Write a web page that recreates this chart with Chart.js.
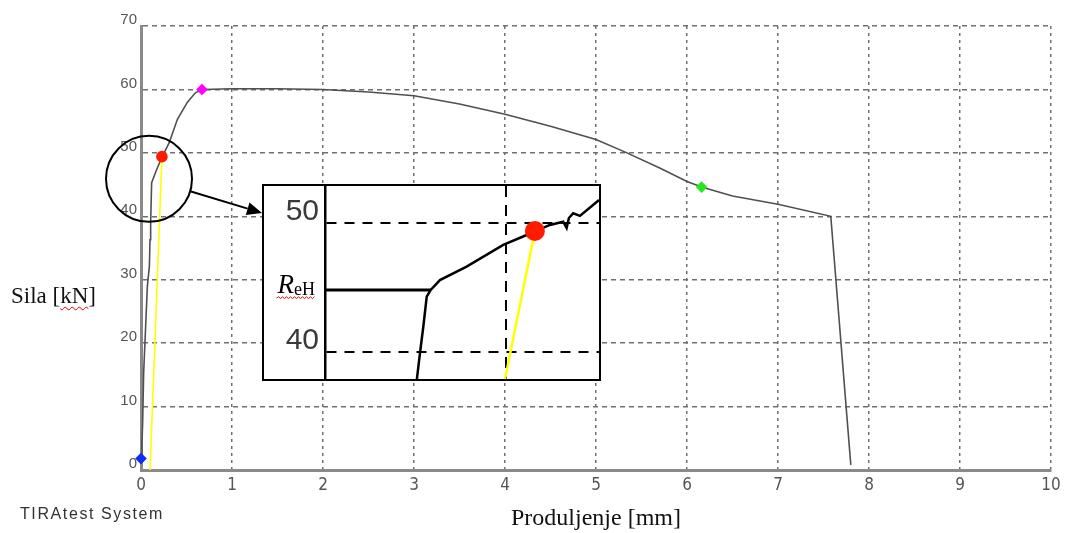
<!DOCTYPE html>
<html>
<head>
<meta charset="utf-8">
<script src="https://cdn.jsdelivr.net/npm/chart.js@4.4.1/dist/chart.umd.min.js"></script>
<style>
html,body{margin:0;padding:0;background:#fff;}
#wrap{position:relative;width:1065px;height:533px;overflow:hidden;background:#fff;}
#main{position:absolute;left:0;top:0;}
#inset{position:absolute;left:262px;top:184px;width:335px;height:193px;border:2px solid #000;background:#fff;}
#inset canvas{position:absolute;left:0;top:0;}
#ylab{position:absolute;left:11px;top:284px;font-family:"Liberation Serif","Times New Roman",serif;font-size:23px;line-height:23px;color:#111;white-space:nowrap;}
#ylab span{text-decoration:underline wavy #e00000;text-decoration-thickness:1px;text-underline-offset:3px;}
#brand{position:absolute;left:20px;top:505px;font-family:"Liberation Sans",Arial,sans-serif;font-size:16px;line-height:18px;letter-spacing:1.6px;color:#333;white-space:nowrap;}
</style>
</head>
<body>
<div id="wrap">
  <canvas id="main" width="1065" height="533"></canvas>
  <div id="ylab">Sila [<span>kN</span>]</div>
  <div id="brand">TIRAtest System</div>
  <div id="inset"><canvas id="insetCanvas" width="335" height="193"></canvas></div>
</div>
<script>
// ---------- main chart data ----------
const xTickValues = [0, 1, 2, 3, 4, 5, 6, 7, 8, 9, 10];
const yTickValues = [0, 10, 20, 30, 40, 50, 60, 70];
const curveX = [0, 0.01, 0.018, 0.029, 0.051, 0.07, 0.092, 0.099, 0.106, 0.117, 0.17, 0.227, 0.31, 0.40, 0.51, 0.60, 0.68, 1.0, 1.5, 2.0, 2.5, 3.0, 3.5, 4.0, 4.5, 5.0, 5.34, 5.7, 6.0, 6.16, 6.5, 7.0, 7.58, 7.8];
const curveY = [1.8, 4.0, 7.4, 15.3, 22.6, 29.0, 32.1, 36.3, 39.0, 45.3, 47.3, 49.2, 51.6, 55.3, 58.0, 59.5, 60.0, 60.1, 60.1, 60.0, 59.6, 59.0, 57.7, 56.1, 54.2, 52.1, 50.0, 47.6, 45.5, 44.6, 43.2, 41.9, 40.0, 0.8];
const yellowX = [0.10, 0.23];
const yellowY = [0, 49.4];
const markerX = [0, 0.23, 0.67, 6.16];
const markerY = [1.8, 49.4, 60, 44.6];
const markerColors = ['#0a2cff', '#ff1a00', '#ff00ff', '#1fe81f'];
const markerStyles = ['rectRot', 'circle', 'rectRot', 'rectRot'];
const circleCenter = [0.088, 45.9];

// ---------- inset (magnified) data ----------
const insetYTicks = [40, 50];
const insetXTicks = [0.2];
const insetCurveX = [0.1014, 0.105, 0.1087, 0.1125, 0.1169, 0.1271, 0.1566, 0.1971, 0.223, 0.2487, 0.2634, 0.2672, 0.2697, 0.2745, 0.2819, 0.303];
const insetCurveY = [37.8, 39.92, 41.98, 44.31, 44.83, 45.6, 46.64, 48.32, 49.09, 49.87, 50.12, 49.64, 50.41, 50.78, 50.57, 51.8];
const reH = 44.83;
const reHEndX = 0.1169;
const insetYellowX = [0.199, 0.2321];
const insetYellowY = [37.9, 49.4];
const insetMarkerX = [0.2321];
const insetMarkerY = [49.4];

const zip = (xs, ys) => xs.map((v, i) => ({x: v, y: ys[i]}));
const noPad = s => { s.paddingTop = 0; s.paddingBottom = 0; s.paddingLeft = 0; s.paddingRight = 0; };

Chart.defaults.font.family = '"Liberation Sans", Arial, sans-serif';

const annot = {
  id: 'annot',
  afterDatasetsDraw(chart) {
    const {ctx, scales: {x, y}} = chart;
    const cx = x.getPixelForValue(circleCenter[0]);
    const cy = y.getPixelForValue(circleCenter[1]);
    const r = 43;
    ctx.save();
    ctx.strokeStyle = '#000';
    ctx.fillStyle = '#000';
    ctx.lineWidth = 2;
    ctx.beginPath();
    ctx.arc(cx, cy, r, 0, Math.PI * 2);
    ctx.stroke();
    const box = document.getElementById('inset');
    const tx = box.offsetLeft, ty = box.offsetTop + 29;
    const dx = tx - cx, dy = ty - cy, L = Math.hypot(dx, dy);
    const ux = dx / L, uy = dy / L;
    const sx = cx + ux * r, sy = cy + uy * r;
    const hl = 15, hw = 6.5;
    const bx = tx - ux * hl, by = ty - uy * hl;
    ctx.beginPath(); ctx.moveTo(sx, sy); ctx.lineTo(bx, by); ctx.stroke();
    ctx.beginPath();
    ctx.moveTo(tx, ty);
    ctx.lineTo(bx - uy * hw, by + ux * hw);
    ctx.lineTo(bx + uy * hw, by - ux * hw);
    ctx.closePath(); ctx.fill();
    ctx.restore();
  }
};

new Chart(document.getElementById('main').getContext('2d'), {
  type: 'scatter',
  data: {
    datasets: [
      {label: 'Sila', data: zip(curveX, curveY), showLine: true, borderColor: '#505050', borderWidth: 1.6, pointRadius: 0, order: 3},
      {label: 'Pravac', data: zip(yellowX, yellowY), showLine: true, borderColor: '#ffff00', borderWidth: 1.6, pointRadius: 0, order: 2},
      {label: 'Točke', data: zip(markerX, markerY), showLine: false, pointRadius: 5.8, pointBorderWidth: 0,
       pointBackgroundColor: markerColors, pointBorderColor: markerColors, pointStyle: markerStyles, clip: false, order: 1}
    ]
  },
  options: {
    responsive: false,
    animation: false,
    events: [],
    layout: {autoPadding: false, padding: {left: 0, top: 26, right: 14, bottom: 0}},
    plugins: {legend: {display: false}, tooltip: {enabled: false}},
    scales: {
      x: {
        type: 'linear', min: 0, max: 10,
        afterBuildTicks: s => { s.ticks = xTickValues.map(v => ({value: v})); },
        afterFit: s => { s.height = 63; noPad(s); },
        ticks: {font: {size: 17, family: '"Liberation Sans Narrow", "DejaVu Sans Condensed", Arial, sans-serif'}, color: '#555', padding: 5, maxRotation: 0},
        grid: {color: '#707070', lineWidth: 1.5, drawTicks: false},
        border: {color: '#8a8a8a', width: 3, dash: [3, 4]},
        title: {display: true, text: 'Produljenje [mm]', color: '#111', font: {family: '"Liberation Serif", "Times New Roman", serif', size: 24}, padding: {top: 0, bottom: 0}}
      },
      y: {
        type: 'linear', min: 0, max: 70,
        afterBuildTicks: s => { s.ticks = yTickValues.map(v => ({value: v})); },
        afterFit: s => { s.width = 141; noPad(s); },
        ticks: {font: {size: 15}, color: '#555', padding: 4, labelOffset: -6},
        grid: {color: '#707070', lineWidth: 1.5, drawTicks: false},
        border: {color: '#8a8a8a', width: 3, dash: [5, 4]}
      }
    }
  },
  plugins: [annot]
});

const rehLabel = {
  id: 'rehLabel',
  afterDraw(chart) {
    const {ctx, scales: {x, y}} = chart;
    const py = y.getPixelForValue(reH);
    const right = x.left - 10;
    ctx.save();
    ctx.fillStyle = '#000';
    ctx.textBaseline = 'alphabetic';
    ctx.textAlign = 'right';
    ctx.font = '18px "Liberation Serif", "Times New Roman", serif';
    const w2 = ctx.measureText('eH').width;
    ctx.fillText('eH', right, py + 5);
    ctx.font = 'italic 27px "Liberation Serif", "Times New Roman", serif';
    const w1 = ctx.measureText('R').width;
    ctx.fillText('R', right - w2, py + 3);
    const x0 = right - w2 - w1 - 1;
    ctx.strokeStyle = '#e00000';
    ctx.lineWidth = 1;
    ctx.beginPath();
    let up = true;
    ctx.moveTo(x0, py + 8);
    for (let xx = x0 + 2; xx <= right; xx += 2) {
      ctx.lineTo(xx, py + (up ? 6.8 : 8.6));
      up = !up;
    }
    ctx.stroke();
    ctx.restore();
  }
};

new Chart(document.getElementById('insetCanvas').getContext('2d'), {
  type: 'scatter',
  data: {
    datasets: [
      {label: 'Sila (uvećano)', data: zip(insetCurveX, insetCurveY), showLine: true, borderColor: '#000', borderWidth: 2.5, pointRadius: 0, order: 4},
      {label: 'ReH', data: zip([0, reHEndX], [reH, reH]), showLine: true, borderColor: '#000', borderWidth: 3, pointRadius: 0, order: 3},
      {label: 'Pravac', data: zip(insetYellowX, insetYellowY), showLine: true, borderColor: '#ffff00', borderWidth: 2.5, pointRadius: 0, order: 2},
      {label: 'Točka', data: zip(insetMarkerX, insetMarkerY), showLine: false, pointRadius: 10, pointBorderWidth: 0,
       pointBackgroundColor: '#ff1a00', pointBorderColor: '#ff1a00', pointStyle: 'circle', order: 1}
    ]
  },
  options: {
    responsive: false,
    animation: false,
    events: [],
    layout: {autoPadding: false, padding: 0},
    plugins: {legend: {display: false}, tooltip: {enabled: false}},
    scales: {
      x: {
        type: 'linear', min: 0, max: 0.303,
        afterBuildTicks: s => { s.ticks = insetXTicks.map(v => ({value: v})); },
        afterFit: s => { s.height = 0; noPad(s); },
        ticks: {display: false},
        grid: {color: '#000', lineWidth: 2, drawTicks: false},
        border: {display: false, dash: [11, 8]}
      },
      y: {
        type: 'linear', min: 37.93, max: 52.89,
        afterBuildTicks: s => { s.ticks = insetYTicks.map(v => ({value: v})); },
        afterFit: s => { s.width = 61; noPad(s); },
        ticks: {font: {size: 30}, color: '#3a3a3a', padding: 6, labelOffset: -12},
        grid: {color: '#000', lineWidth: 2, drawTicks: false},
        border: {color: '#000', width: 2.5, dash: [10, 8]}
      }
    }
  },
  plugins: [rehLabel]
});
</script>
</body>
</html>
